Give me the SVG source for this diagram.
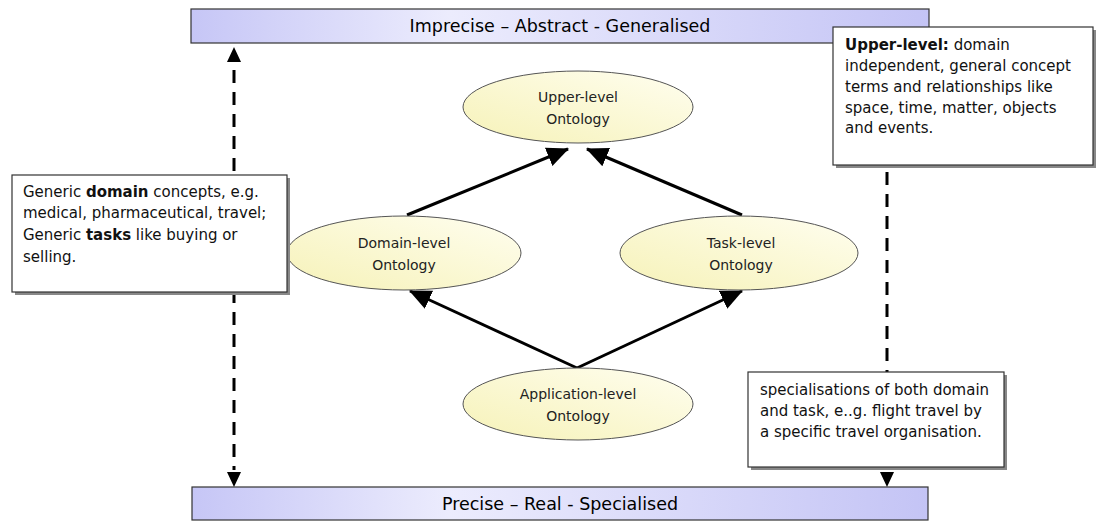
<svg xmlns="http://www.w3.org/2000/svg" width="1099" height="521" viewBox="0 0 1099 521">
  <style>
    .bar { stroke: #333; stroke-width: 1.2; }
    .barText { font-family: "DejaVu Sans", Verdana, sans-serif; font-size: 17.5px; fill: #000; text-anchor: middle; }
    .ell { fill: url(#ellFill); stroke: #555; stroke-width: 1; }
    .ellText { font-family: "DejaVu Sans", Verdana, sans-serif; font-size: 14px; fill: #222; text-anchor: middle; }
    .note { fill: #fff; stroke: #333; stroke-width: 1.2; }
    .shadow { fill: #888; }
    .noteText { font-family: "DejaVu Sans", Verdana, sans-serif; font-size: 15px; fill: #111; }
    .noteText .b { font-weight: bold; }
    .link { stroke: #000; stroke-width: 3; fill: none; marker-end: url(#head); }
    .dash { stroke: #000; stroke-width: 3; fill: none; stroke-dasharray: 13 9; }
  </style>
  <defs>
    <linearGradient id="barFill" x1="0" y1="0" x2="1" y2="0">
      <stop offset="0" stop-color="#c6c6f6"/>
      <stop offset="0.35" stop-color="#ececfd"/>
      <stop offset="1" stop-color="#c4c4f5"/>
    </linearGradient>
    <linearGradient id="ellFill" x1="0" y1="1" x2="1" y2="0">
      <stop offset="0" stop-color="#f6f2b8"/>
      <stop offset="1" stop-color="#fffef0"/>
    </linearGradient>
    <marker id="head" markerUnits="userSpaceOnUse" markerWidth="22" markerHeight="22" viewBox="0 0 20 20" refX="19" refY="10" orient="auto">
      <path d="M0,1 L20,10 L0,19 Z" fill="#000"/>
    </marker>
  </defs>

  <!-- level bars -->
  <g id="bar-top">
    <rect class="bar" x="191" y="9" width="738" height="34" fill="url(#barFill)"/>
    <text class="barText" x="560" y="32">Imprecise – Abstract - Generalised</text>
  </g>
  <g id="bar-bottom">
    <rect class="bar" x="192" y="487" width="736" height="33" fill="url(#barFill)"/>
    <text class="barText" x="560" y="510">Precise – Real - Specialised</text>
  </g>

  <!-- connectors -->
  <g id="connectors">
    <line class="link" x1="407" y1="215" x2="568" y2="149"/>
    <line class="link" x1="742" y1="215" x2="587" y2="149"/>
    <line class="link" x1="577" y1="368" x2="410" y2="291"/>
    <line class="link" x1="577" y1="368" x2="742" y2="291"/>
    <line class="dash" x1="234" y1="70" x2="234" y2="470"/>
    <path d="M234,47 L241,62 L227,62 Z" fill="#000"/>
    <path d="M234,487 L241,472 L227,472 Z" fill="#000"/>
    <line class="dash" x1="887" y1="172" x2="887" y2="372"/>
    <path d="M887,487 L894,472 L880,472 Z" fill="#000"/>
  </g>

  <!-- ontology levels -->
  <g id="upper-level">
    <ellipse class="ell" cx="578" cy="107" rx="115" ry="36"/>
    <text class="ellText" x="578" y="102">Upper-level</text>
    <text class="ellText" x="578" y="124">Ontology</text>
  </g>
  <g id="domain-level">
    <ellipse class="ell" cx="404" cy="253" rx="117" ry="37"/>
    <text class="ellText" x="404" y="248">Domain-level</text>
    <text class="ellText" x="404" y="270">Ontology</text>
  </g>
  <g id="task-level">
    <ellipse class="ell" cx="739" cy="253" rx="119" ry="37"/>
    <text class="ellText" x="741" y="248">Task-level</text>
    <text class="ellText" x="741" y="270">Ontology</text>
  </g>
  <g id="application-level">
    <ellipse class="ell" cx="578" cy="404" rx="115" ry="36"/>
    <text class="ellText" x="578" y="399">Application-level</text>
    <text class="ellText" x="578" y="421">Ontology</text>
  </g>

  <!-- notes -->
  <g id="note-domain-task">
    <rect class="shadow" x="15" y="178" width="275" height="117"/>
    <rect class="note" x="12" y="175" width="275" height="117"/>
    <text class="noteText" x="23" y="197">Generic <tspan class="b">domain</tspan> concepts, e.g.</text>
    <text class="noteText" x="23" y="218">medical, pharmaceutical, travel;</text>
    <text class="noteText" x="23" y="240">Generic <tspan class="b">tasks</tspan> like buying or</text>
    <text class="noteText" x="23" y="262">selling.</text>
  </g>
  <g id="note-upper">
    <rect class="shadow" x="836" y="30" width="260" height="138"/>
    <rect class="note" x="833" y="27" width="260" height="138"/>
    <text class="noteText" x="845" y="50"><tspan class="b">Upper-level:</tspan> domain</text>
    <text class="noteText" x="845" y="71">independent, general concept</text>
    <text class="noteText" x="845" y="92">terms and relationships like</text>
    <text class="noteText" x="845" y="113">space, time, matter, objects</text>
    <text class="noteText" x="845" y="133">and events.</text>
  </g>
  <g id="note-application">
    <rect class="shadow" x="751" y="375" width="256" height="95"/>
    <rect class="note" x="748" y="372" width="256" height="95"/>
    <text class="noteText" x="760" y="395">specialisations of both domain</text>
    <text class="noteText" x="760" y="416">and task, e..g. flight travel by</text>
    <text class="noteText" x="760" y="437">a specific travel organisation.</text>
  </g>
</svg>
